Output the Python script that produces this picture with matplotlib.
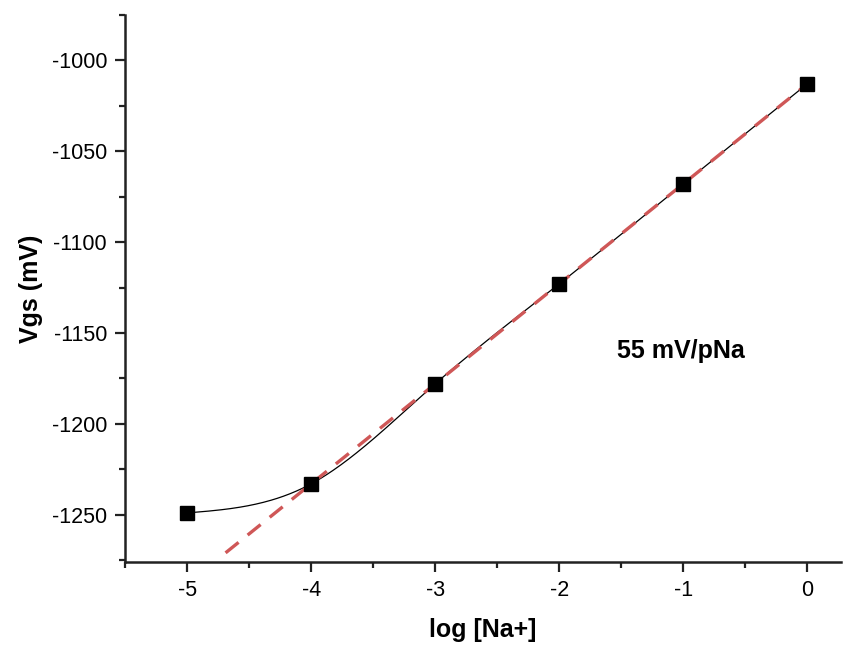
import numpy as np
import matplotlib
matplotlib.use("Agg")
import matplotlib.pyplot as plt
from matplotlib.ticker import MultipleLocator

plt.rcParams['font.family'] = ['Liberation Sans', 'DejaVu Sans']
plt.rcParams['axes.unicode_minus'] = False

# data
log_na = [-5, -4, -3, -2, -1, 0]
vgs = [-1249, -1233, -1178, -1123, -1068, -1013]
slope = 55.0          # mV per decade
intercept = -1013.0
fit_start = -4.69


def natural_spline(x, y, xs):
    x = np.asarray(x, float)
    y = np.asarray(y, float)
    n = len(x)
    h = np.diff(x)
    A = np.zeros((n, n))
    b = np.zeros(n)
    A[0, 0] = A[-1, -1] = 1
    for i in range(1, n - 1):
        A[i, i - 1] = h[i - 1]
        A[i, i] = 2 * (h[i - 1] + h[i])
        A[i, i + 1] = h[i]
        b[i] = 6 * ((y[i + 1] - y[i]) / h[i] - (y[i] - y[i - 1]) / h[i - 1])
    M = np.linalg.solve(A, b)
    out = np.empty_like(xs)
    for k, t in enumerate(xs):
        i = min(max(np.searchsorted(x, t) - 1, 0), n - 2)
        a = x[i + 1] - t
        c = t - x[i]
        out[k] = (M[i] * a ** 3 + M[i + 1] * c ** 3) / (6 * h[i]) \
            + (y[i] / h[i] - M[i] * h[i] / 6) * a \
            + (y[i + 1] / h[i] - M[i + 1] * h[i] / 6) * c
    return out


fig = plt.figure(figsize=(8.57, 6.46), dpi=100)
ax = fig.add_axes([0.146, 0.130, 0.835, 0.847])

xs = np.linspace(log_na[0], log_na[-1], 400)
ax.plot(xs, natural_spline(log_na, vgs, xs), color='black', lw=0.9, zorder=2)

xf = np.array([fit_start, 0])
ax.plot(xf, intercept + slope * xf, color='#cf5757', lw=2.4,
        dashes=(5, 3.5), zorder=3)

ax.plot(log_na, vgs, 's', color='black', markersize=9.5, zorder=4)

ax.text(-1.53, -1160, '55 mV/pNa', fontsize=18, fontweight='bold',
        va='center', ha='left')

ax.set_xlim(-5.5, 0.27)
ax.set_ylim(-1276, -975)
ax.xaxis.set_major_locator(MultipleLocator(1))
ax.xaxis.set_minor_locator(MultipleLocator(0.5))
ax.yaxis.set_major_locator(MultipleLocator(50))
ax.yaxis.set_minor_locator(MultipleLocator(25))

for s in ['top', 'right']:
    ax.spines[s].set_visible(False)
for s in ['left', 'bottom']:
    ax.spines[s].set_linewidth(1.8)
    ax.spines[s].set_color('#222222')

ax.tick_params(which='major', length=7, width=1.6, labelsize=15.5,
               color='#222222', pad=6)
ax.tick_params(which='minor', length=4, width=1.6, color='#222222')

ax.set_xlabel('log [Na+]', fontsize=18, fontweight='bold', labelpad=12)
ax.set_ylabel('Vgs (mV)', fontsize=18, fontweight='bold', labelpad=6)

fig.savefig('out.png', dpi=100)
